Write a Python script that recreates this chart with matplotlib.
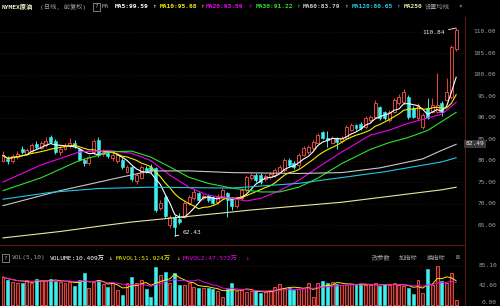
from matplotlib import pyplot as plt
import numpy as np
import pandas as pd

# daily candles, NYMEX crude
opens = [80.0, 80.4, 79.8, 80.8, 82.6, 81.6, 82.2, 83.8, 83.0, 83.6,
         85.4, 84.6, 82.0, 82.8, 83.4, 84.2, 82.6, 80.2, 79.4, 82.0,
         84.8, 81.6, 81.8, 80.6, 79.8, 80.1, 77.4, 78.4, 75.2, 75.9,
         78.2, 78.4, 78.3, 68.9, 71.5, 65.0, 66.8, 66.4, 66.9, 70.1,
         71.3, 72.4, 71.4, 71.8, 71.5, 70.4, 71.3, 72.4, 71.2, 69.4,
         71.2, 73.1, 75.9, 76.6, 76.6, 75.6, 76.2, 76.6, 77.3, 77.8,
         80.1, 79.4, 79.0, 81.3, 82.0, 82.9, 84.1, 86.6, 85.3, 84.1,
         85.3, 84.6, 85.3, 87.1, 88.3, 88.6, 87.8, 89.4, 90.1, 92.4,
         91.3, 89.4, 91.3, 93.4, 93.6, 94.8, 92.2, 89.8, 87.8, 92.2,
         91.3, 91.3, 93.4, 94.1, 94.8, 106.0]
closes = [81.2, 79.8, 81.0, 81.6, 82.0, 82.4, 83.6, 83.2, 84.0, 84.6,
          84.4, 82.0, 82.8, 83.4, 84.2, 83.4, 80.2, 79.4, 80.8, 84.6,
          81.4, 82.0, 81.0, 81.2, 81.2, 78.4, 78.4, 75.6, 76.6, 78.4,
          77.4, 77.6, 68.6, 70.1, 67.0, 66.9, 64.6, 65.6, 70.1, 71.5,
          72.6, 70.9, 71.8, 70.9, 70.2, 71.6, 73.1, 70.8, 69.4, 71.2,
          73.1, 76.1, 76.6, 75.5, 75.0, 76.4, 76.9, 77.8, 78.5, 80.1,
          79.0, 78.5, 81.3, 82.9, 83.1, 84.3, 85.9, 85.3, 84.9, 85.3,
          84.3, 85.3, 87.8, 88.3, 87.6, 87.6, 89.9, 90.1, 93.4, 89.9,
          89.9, 91.3, 94.1, 94.8, 96.0, 90.1, 90.1, 92.9, 90.6, 90.0,
          92.9, 92.9, 91.3, 96.0, 106.4, 110.4]
highs = [82.3, 81.0, 81.6, 82.2, 83.4, 82.9, 84.0, 84.6, 84.6, 85.4,
         86.0, 85.0, 83.4, 84.2, 85.2, 84.8, 83.0, 80.6, 81.4, 85.0,
         85.4, 82.6, 82.4, 81.8, 81.8, 80.6, 79.0, 78.8, 77.0, 79.0,
         78.8, 79.2, 78.6, 70.8, 72.0, 67.4, 67.4, 67.8, 70.6, 72.0,
         73.4, 72.8, 72.2, 72.2, 71.8, 72.2, 73.6, 72.6, 71.6, 71.6,
         73.6, 76.6, 77.2, 77.0, 77.0, 76.8, 77.4, 78.2, 79.0, 80.6,
         80.5, 79.8, 81.8, 83.3, 83.6, 84.8, 86.4, 87.0, 86.8, 85.8,
         85.6, 85.8, 88.2, 88.8, 88.6, 89.0, 90.4, 90.6, 94.2, 92.8,
         91.6, 91.8, 94.6, 95.4, 96.6, 95.2, 92.6, 93.4, 91.0, 94.6,
         94.6, 100.4, 93.8, 99.2, 106.8, 110.84]
lows = [79.6, 79.2, 79.4, 80.4, 81.6, 81.2, 81.8, 82.8, 82.6, 83.2,
        84.0, 81.6, 81.4, 82.4, 83.0, 83.0, 79.8, 78.8, 79.0, 81.6,
        80.8, 81.0, 80.6, 80.0, 79.4, 78.0, 77.0, 75.2, 74.6, 75.6,
        77.0, 77.2, 68.0, 68.4, 66.6, 64.4, 62.43, 65.2, 66.6, 69.6,
        70.8, 70.4, 70.8, 70.4, 69.8, 70.0, 71.0, 66.9, 68.6, 69.0,
        70.9, 72.8, 75.4, 75.1, 74.6, 75.2, 75.8, 76.2, 77.0, 77.4,
        78.6, 78.0, 78.6, 81.0, 81.6, 82.5, 83.8, 85.0, 83.2, 83.8,
        82.6, 84.2, 85.0, 86.8, 87.2, 87.2, 87.4, 89.0, 89.8, 89.5,
        89.5, 89.0, 91.0, 93.0, 93.2, 89.6, 89.8, 89.4, 87.4, 89.6,
        91.0, 91.0, 90.4, 93.8, 94.4, 105.4]
# volume in 万
volumes = [61, 54, 51, 47, 49, 54, 47, 57, 54, 52,
           56, 53, 50, 49, 50, 42, 54, 69, 38, 51,
           54, 45, 40, 47, 33, 22, 47, 62, 47, 54,
           35, 17, 83, 66, 71, 49, 69, 43, 43, 47,
           40, 38, 36, 38, 35, 31, 17, 35, 49, 30,
           32, 28, 30, 31, 26, 28, 30, 40, 45, 38,
           38, 33, 35, 38, 47, 17, 49, 53, 47, 51,
           45, 43, 44, 46, 45, 43, 43, 44, 47, 42,
           45, 43, 47, 43, 42, 38, 23, 54, 27, 79,
           43, 85, 53, 47, 69, 10.4]

# longer moving averages (candle index, price)
ma20_idx = [0, 8, 16, 22, 27, 31, 35, 39, 43, 48, 51, 54, 58, 62, 66, 71, 77, 81, 85, 89, 92, 95]
ma20_val = [75.0, 79.0, 82.0, 82.4, 81.7, 80.0, 76.6, 73.8, 71.9, 71.2, 70.6, 71.2, 73.0, 75.4,
            78.4, 82.0, 85.9, 87.1, 88.7, 89.9, 90.8, 93.59]
ma30_idx = [0, 8, 16, 20, 22, 27, 31, 35, 39, 43, 48, 54, 58, 62, 66, 71, 77, 81, 85, 89, 95]
ma30_val = [73.0, 76.0, 80.0, 81.2, 82.0, 82.2, 80.8, 78.5, 76.1, 74.7, 73.6, 72.7, 72.7, 73.8,
            75.9, 79.3, 82.6, 84.2, 85.4, 87.0, 91.22]
ma60_idx = [0, 12, 25, 31, 39, 48, 62, 71, 79, 88, 92, 95]
ma60_val = [69.5, 73.0, 76.2, 77.6, 77.6, 77.2, 77.0, 77.2, 78.3, 80.4, 82.4, 83.79]
ma120_idx = [0, 10, 20, 31, 48, 62, 70, 80, 92, 95]
ma120_val = [71.0, 72.6, 73.5, 73.8, 73.6, 74.7, 75.9, 77.4, 79.7, 80.65]
ma250_idx = [0, 12, 22, 27, 46, 52, 71, 92, 95]
ma250_val = [62.0, 63.5, 65.0, 65.7, 67.8, 68.5, 70.3, 73.2, 73.8]

price_ticks = [65, 70, 75, 80, 85, 90, 95, 100, 105, 110]
vol_ticks = [85.10, 42.60, 0.00]

RED = '#e0483f'
CYAN = '#3cf0f0'
GRAY = '#a0a0a0'
YEL = '#f0f000'
MAG = '#f000f0'
GRN = '#30e030'
LGRAY = '#c8c8c8'
TEAL = '#20c8e0'
PALE = '#e8e8a0'
GRIDC = '#4a1010'
MONO = ['DejaVu Sans Mono', 'Noto Sans CJK SC', 'DejaVu Sans']
FS = 4.5

fig = plt.figure(figsize=(5, 3.06), dpi=100, facecolor='black')
ax = fig.add_axes([0, 1 - 245 / 306, 465 / 500, 228 / 306], facecolor='black')
axv = fig.add_axes([0, 0, 465 / 500, 61 / 306], facecolor='black')

x = np.arange(len(closes))
o = np.array(opens)
c = np.array(closes)
up = c >= o
wick_col = np.where(up, RED, CYAN)
body_lo = np.minimum(o, c)
body_h = np.maximum(np.abs(c - o), 0.12)

ax.vlines(x, lows, highs, colors=wick_col, lw=0.7, zorder=2)
ax.bar(x[up], body_h[up], bottom=body_lo[up], width=0.62,
       facecolor='black', edgecolor=RED, lw=0.7, zorder=3)
ax.bar(x[~up], body_h[~up], bottom=body_lo[~up], width=0.62,
       facecolor=CYAN, edgecolor=CYAN, lw=0.4, zorder=3)

s = pd.Series(closes)
ax.plot(x, s.rolling(5, min_periods=1).mean(), color='white', lw=0.8, zorder=4)
ax.plot(x, s.rolling(10, min_periods=1).mean(), color=YEL, lw=0.8, zorder=4)
ax.plot(ma20_idx, ma20_val, color=MAG, lw=0.8, zorder=4)
ax.plot(ma30_idx, ma30_val, color=GRN, lw=0.8, zorder=4)
ax.plot(ma60_idx, ma60_val, color=LGRAY, lw=0.8, zorder=4)
ax.plot(ma120_idx, ma120_val, color=TEAL, lw=0.8, zorder=4)
ax.plot(ma250_idx, ma250_val, color=PALE, lw=0.8, zorder=4)

for p in price_ticks:
    ax.axhline(p, color=GRIDC, lw=0.5, ls=(0, (1, 2)), zorder=1)
    ax.text(496 / 465, p, '%.2f' % p, transform=ax.get_yaxis_transform(),
            ha='right', va='center', color=GRAY, fontsize=FS, family=MONO, clip_on=False)

ax.text(1.0022, 0.444, '82.49', transform=ax.transAxes, ha='left', va='center',
        color='#e8e8e8', fontsize=FS, family=MONO, clip_on=False,
        bbox=dict(boxstyle='square,pad=0.25', fc='#3a3a3a', ec='none'), zorder=6)

xmin = -3 / 4.77
ax.set_xlim(xmin, xmin + 465 / 4.77)
ax.set_ylim(60.35, 112.72 + 3 / 4.296)

ax.annotate('110.84', xy=(x[-1], highs[-1]), xytext=(-8, -3.2), textcoords='offset points',
            ha='right', va='center', color='#e8e8e8', fontsize=FS, family=MONO,
            arrowprops=dict(arrowstyle='-', color='white', lw=0.6, shrinkA=0.5, shrinkB=0))
ax.annotate('62.43', xy=(36, 62.43), xytext=(5.5, 2.6), textcoords='offset points',
            ha='left', va='center', color='#e8e8e8', fontsize=FS, family=MONO,
            arrowprops=dict(arrowstyle='-', color='white', lw=0.6, shrinkA=0.5, shrinkB=0))

# volume panel
v = np.array(volumes)
axv.bar(x[up], v[up], width=0.62, facecolor='#4a1414', edgecolor=RED, lw=0.7)
axv.bar(x[~up], v[~up], width=0.62, facecolor=CYAN, edgecolor=CYAN, lw=0.4)
vs = pd.Series(volumes)
axv.plot(x, vs.rolling(5, min_periods=1).mean(), color=YEL, lw=0.7)
axv.plot(x, vs.rolling(10, min_periods=1).mean(), color=MAG, lw=0.7)
axv.set_xlim(ax.get_xlim())
axv.set_ylim(-2.2, 130.8)
for vt in vol_ticks[:2]:
    axv.axhline(vt, color=GRIDC, lw=0.5, ls=(0, (1, 2)), zorder=0)
for vt in vol_ticks:
    axv.text(497 / 465, vt, '%.2f' % vt, transform=axv.get_yaxis_transform(),
             ha='right', va='bottom' if vt == 0 else 'center', color=GRAY,
             fontsize=FS, family=MONO, clip_on=False)

for a in (ax, axv):
    a.set_xticks([])
    a.set_yticks([])
    for side in a.spines:
        a.spines[side].set_color('#5a1414')
        a.spines[side].set_linewidth(0.8)
    a.spines['left'].set_visible(False)
axv.spines['bottom'].set_visible(False)
ax.spines['top'].set_visible(False)


def px_text(px, py, txt, color, **kw):
    fig.text(px / 500, 1 - py / 306, txt, color=color, fontsize=FS, family=MONO,
             ha='left', va='center', **kw)


header = [(2, 'NYMEX原油', '#f0f0c8'), (40, '(日线, 前复权)', GRAY), (102, 'MA', GRAY),
          (115, 'MA5:99.59', 'white'), (152, '↑', 'white'),
          (160, 'MA10:95.68', YEL), (200, '↑', YEL),
          (206, 'MA20:93.59', MAG), (248, '↑', MAG),
          (256, 'MA30:91.22', GRN), (296, '↑', GRN),
          (303, 'MA60:83.79', LGRAY), (344, '↑', LGRAY),
          (352, 'MA120:80.65', TEAL), (396, '↑', TEAL),
          (404, 'MA250', PALE), (425, '设置均线', GRAY), (458, '▾', GRAY)]
for px, txt, col in header:
    px_text(px, 7, txt, col, fontweight='bold' if txt.startswith(('MA', 'NY')) and txt != 'MA' else 'normal')
px_text(94.5, 7, '?', GRAY, bbox=dict(boxstyle='square,pad=0.2', fc='none', ec='#909090', lw=0.6))

vol_header = [(12, 'VOL(5,10)', GRAY), (50, 'VOLUME:10.409万', 'white'), (108, '↓', 'white'),
              (116, 'MAVOL1:51.924万', YEL), (176, '↓', YEL),
              (183, 'MAVOL2:47.572万', MAG), (245, '↓', MAG),
              (372, '改参数', GRAY), (399, '加指标', GRAY), (427, '换指标', GRAY), (456, '⊠', GRAY)]
for px, txt, col in vol_header:
    px_text(px, 258, txt, col)
px_text(3.5, 258, '?', GRAY, bbox=dict(boxstyle='square,pad=0.2', fc='none', ec='#909090', lw=0.6))

fig.savefig('out.png', dpi=100, facecolor='black')
